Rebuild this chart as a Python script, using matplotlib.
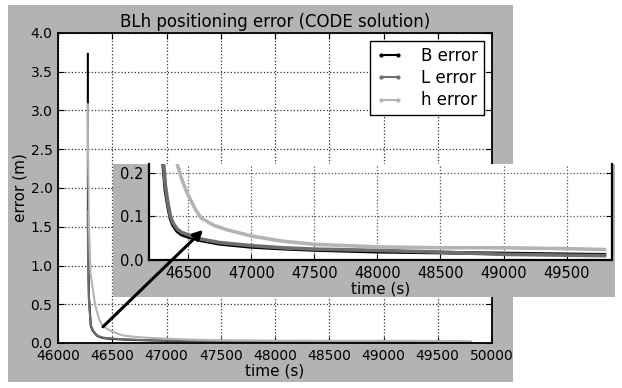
import matplotlib
matplotlib.use("Agg")
import matplotlib.pyplot as plt
from matplotlib.patches import ConnectionPatch
from matplotlib.lines import Line2D

# ---- data ----
time_s = [46275, 46276, 46285, 46302, 46320, 46341, 46360, 46380, 46413, 46450, 46500,
          46600, 46750, 47000, 47250, 47500, 48000, 48500, 49000, 49500, 49800]
b_error = [3.73, 1.50, 0.60, 0.22, 0.16, 0.122, 0.095, 0.080, 0.066, 0.058, 0.053,
           0.045, 0.037, 0.030, 0.026, 0.023, 0.019, 0.017, 0.015, 0.013, 0.012]
l_error = [1.70, 1.20, 0.55, 0.23, 0.17, 0.128, 0.100, 0.085, 0.071, 0.063, 0.058,
           0.048, 0.040, 0.033, 0.028, 0.025, 0.022, 0.018, 0.013, 0.011, 0.010]
h_time = [46275, 46276, 46285, 46300, 46341, 46380, 46413, 46450, 46490, 46550,
          46600, 46700, 46800, 47000, 47250, 47500, 48000, 48500, 49000, 49500, 49800]
h_error = [3.08, 2.50, 1.50, 0.90, 0.50, 0.30, 0.22, 0.185, 0.155, 0.120,
           0.097, 0.080, 0.070, 0.055, 0.043, 0.036, 0.030, 0.028, 0.028, 0.026, 0.024]

labels = ["B error", "L error", "h error"]
colors = ["#000000", "#6e6e6e", "#b4b4b4"]
main_xticks = [46000, 46500, 47000, 47500, 48000, 48500, 49000, 49500, 50000]
main_yticks = [0.0, 0.5, 1.0, 1.5, 2.0, 2.5, 3.0, 3.5, 4.0]
inset_xticks = [46500, 47000, 47500, 48000, 48500, 49000, 49500]
inset_yticks = [0.0, 0.1, 0.2]

W, H = 622, 388
GRAY = "#b3b3b3"

fig = plt.figure(figsize=(W / 100, H / 100), dpi=100)
fig.patch.set_facecolor("white")

def fr(x0, y0, x1, y1):
    """pixel box (top-left origin) -> figure fraction rect"""
    return [x0 / W, 1 - y1 / H, (x1 - x0) / W, (y1 - y0) / H]

# main gray background
bg = fig.add_axes(fr(8, 5, 513, 382), zorder=-1)
bg.set_facecolor(GRAY)
bg.set_xticks([]); bg.set_yticks([])
for s in bg.spines.values():
    s.set_visible(False)

series = [(time_s, b_error), (time_s, l_error), (h_time, h_error)]

# main axes
ax = fig.add_axes(fr(58, 33, 492, 343), zorder=0)
for (x, y), c in zip(series, colors):
    ax.plot(x, y, color=c, lw=1.5, solid_joinstyle="round")
ax.set_xlim(46000, 50000)
ax.set_ylim(0, 4)
ax.set_xticks(main_xticks)
ax.set_yticks(main_yticks)
ax.set_xticklabels([str(t) for t in main_xticks])
ax.set_yticklabels([f"{t:.1f}" for t in main_yticks])
ax.tick_params(direction="in", top=True, right=True, labelsize=10, length=4, pad=4)
ax.grid(True, linestyle=":", color="#333333", lw=0.9)
ax.set_title("BLh positioning error (CODE solution)", fontsize=12, pad=4)
ax.set_xlabel("time (s)", fontsize=11, labelpad=1)
ax.set_ylabel("error (m)", fontsize=11, labelpad=2)
for s in ax.spines.values():
    s.set_linewidth(1.3)

handles = [Line2D([0], [0], color=c, lw=1.5, marker=".", ms=4) for c in colors]
leg = ax.legend(handles, labels, loc="upper right", fontsize=12, numpoints=2,
                labelspacing=0.25, handlelength=1.6, handletextpad=1.1,
                borderpad=0.35, borderaxespad=0.5, fancybox=False, framealpha=1)
leg.get_frame().set_edgecolor("black")
leg.get_frame().set_linewidth(1.0)

# inset gray panel
panel = fig.add_axes(fr(113, 164, 615, 297), zorder=1)
panel.set_facecolor(GRAY)
panel.set_xticks([]); panel.set_yticks([])
for s in panel.spines.values():
    s.set_visible(False)

# inset axes
ia = fig.add_axes(fr(149, 164, 612, 260), zorder=2)
for (x, y), c in zip(series, colors):
    ia.plot(x, y, color=c, lw=2.6, solid_joinstyle="round")
ia.set_xlim(46190, 49860)
ia.set_ylim(0, 0.22)
ia.set_xticks(inset_xticks)
ia.set_yticks(inset_yticks)
ia.set_xticklabels([str(t) for t in inset_xticks])
ia.set_yticklabels([f"{t:.1f}" for t in inset_yticks])
ia.tick_params(direction="in", top=False, right=True, labelsize=10.5, length=4, pad=4)
ia.grid(True, linestyle=":", color="#555555", lw=0.9)
ia.set_xlabel("time (s)", fontsize=11, labelpad=1)
ia.spines["top"].set_visible(False)
for k in ("left", "bottom", "right"):
    ia.spines[k].set_linewidth(1.6)

# arrow from main curve region to inset
con = ConnectionPatch(xyA=(46415, 0.21), coordsA=ax.transData,
                      xyB=(46619, 0.069), coordsB=ia.transData,
                      arrowstyle="-|>", mutation_scale=14, lw=2.2, color="black")
con.set_zorder(10)
fig.add_artist(con)

fig.savefig("out.png", dpi=100, facecolor="white")
